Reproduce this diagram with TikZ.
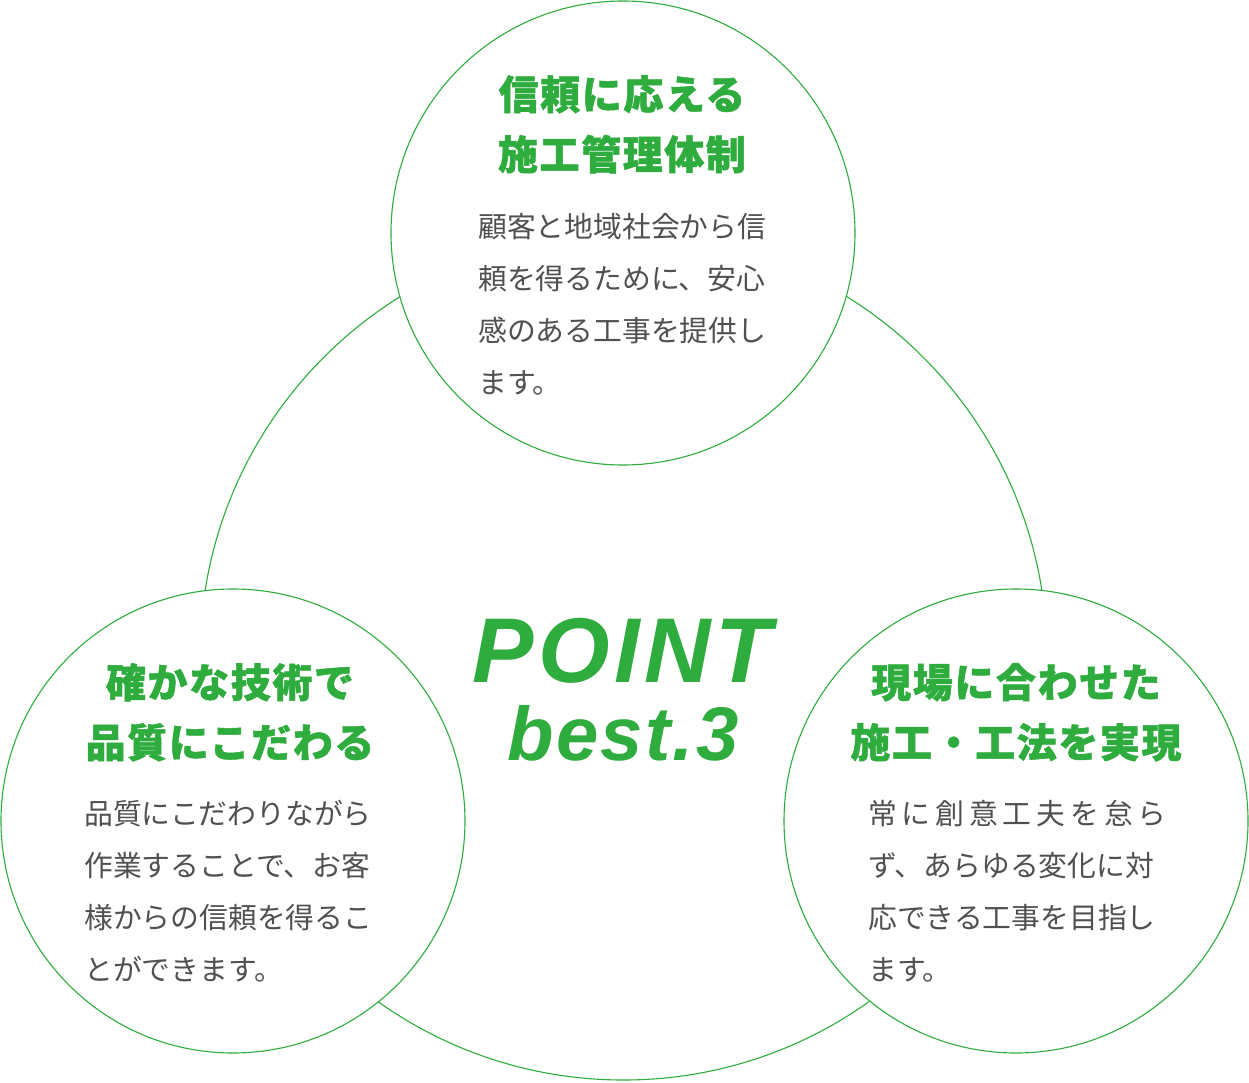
\documentclass[tikz,border=0pt]{standalone}
\usepackage{fontspec}
\setmainfont{Liberation Sans}
\newfontfamily\jpfont{Noto Sans CJK JP}
\newfontfamily\pointfont{Liberation Sans}
\usetikzlibrary{positioning}
\definecolor{pointgreen}{RGB}{46,172,62}
\definecolor{textgray}{RGB}{80,80,80}
\tikzset{
  ring/.style={circle, draw=pointgreen, line width=1.1pt, fill=white, inner sep=0pt, minimum size=464pt},
  headline/.style={font=\jpfont\bfseries\fontsize{40}{60}\selectfont\addfontfeature{FakeBold=1.2,LetterSpace=4}, text=pointgreen, align=center, inner sep=0pt, anchor=north},
  bodytext/.style={font=\jpfont\fontsize{28.8}{52}\selectfont, text=textgray, align=left, inner sep=0pt, anchor=north west},
  pointtext/.style={text=pointgreen, inner sep=0pt, anchor=base}
}

\begin{document}
\begin{tikzpicture}[x=1pt, y=-1pt]
                \useasboundingbox (0,0) rectangle (1249,1083);
                \draw[pointgreen, line width=1.1pt] (623.5,656.5) circle[radius=423.5];

                \node[ring] (trust) at (623,233) {};
                \node[ring] (quality) at (233,821) {};
                \node[ring] (site) at (1016,821) {};

                \node[headline] (trusthead) at (622,75) {信頼に応える\\施工管理体制};
                \node[headline] (qualityhead) at (230,663) {確かな技術で\\品質にこだわる};
                \node[headline] (sitehead) at (1016,663) {現場に合わせた\\施工・工法を実現};

                \node[bodytext] (trustbody) at (478,213) {顧客と地域社会から信\\頼を得るために、安心\\感のある工事を提供し\\ます。};
                \node[bodytext] (qualitybody) at (84,800) {品質にこだわりながら\\作業することで、お客\\様からの信頼を得るこ\\とができます。};
                \node[bodytext] (sitebody) at (868,800) {{\addfontfeature{LetterSpace=17}常に創意工夫を怠ら}\\ず、あらゆる変化に対\\応できる工事を目指し\\ます。};

                \node[pointtext, font=\pointfont\bfseries\itshape\fontsize{92}{92}\selectfont\addfontfeature{LetterSpace=5}] (point) at (622,682) {POINT};
                \node[pointtext, font=\pointfont\bfseries\itshape\fontsize{76}{76}\selectfont\addfontfeature{LetterSpace=3}] (best) at (623,760) {best.3};
\end{tikzpicture}
\end{document}
